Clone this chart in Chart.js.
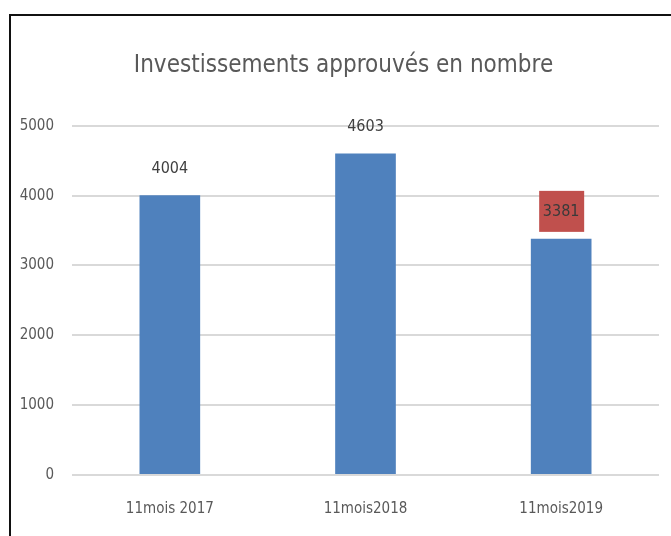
<!DOCTYPE html>
<html>
<head>
<meta charset="utf-8">
<script src="https://cdn.jsdelivr.net/npm/chart.js@4"></script>
<style>
  html, body { margin: 0; padding: 0; background: #fff; }
  #wrap { position: relative; width: 671px; height: 536px; overflow: hidden; }
  #frame { position: absolute; left: 9px; top: 14px; width: 700px; height: 600px;
           border-top: 2px solid #111; border-left: 2px solid #111; }
  canvas { position: absolute; left: 0; top: 0; }
</style>
</head>
<body>
<div id="wrap">
  <div id="frame"></div>
  <canvas id="chart" width="671" height="536"></canvas>
</div>
<script>
const categories = ['11mois 2017', '11mois2018', '11mois2019'];
const values = [4004, 4603, 3381];
const yTicks = [0, 1000, 2000, 3000, 4000, 5000];

const FONT = '"DejaVu Sans Condensed", "Liberation Sans Narrow", sans-serif';
const highlight = 2; // the boxed label

// draws the value labels above each bar
const valueLabels = {
    id: 'valueLabels',
    afterDatasetsDraw(chart) {
        const ctx = chart.ctx;
        const bars = chart.getDatasetMeta(0).data;
        ctx.save();
        ctx.font = '16px ' + FONT;
        ctx.textAlign = 'center';
        ctx.textBaseline = 'middle';
        bars.forEach((bar, i) => {
            const cy = bar.y - 28;
            if (i === highlight) {
                ctx.fillStyle = '#C0504D';
                ctx.fillRect(bar.x - 22, cy - 20, 45, 41);
                ctx.fillStyle = '#3a3a3a';
            } else {
                ctx.fillStyle = '#404040';
            }
            ctx.fillText(String(values[i]), bar.x, cy + 1);
        });
        ctx.restore();
    }
};

new Chart(document.getElementById('chart').getContext('2d'), {
    type: 'bar',
    data: {
        labels: categories,
        datasets: [{
            data: values,
            backgroundColor: '#4F81BD',
            barPercentage: 0.31,
            categoryPercentage: 1
        }]
    },
    options: {
        responsive: false,
        animation: false,
        layout: { padding: { left: 16, right: 0, top: 51, bottom: 1 } },
        plugins: {
            legend: { display: false },
            tooltip: { enabled: false },
            title: {
                display: true,
                text: 'Investissements approuvés en nombre',
                color: '#595959',
                font: { family: FONT, size: 24, weight: 'normal' },
                padding: { top: 0, bottom: 46 }
            }
        },
        scales: {
            x: {
                grid: { display: false },
                border: { display: false },
                ticks: { color: '#595959', font: { family: FONT, size: 15 }, padding: 17 }
            },
            y: {
                min: 0,
                max: 5000,
                afterBuildTicks: s => { s.ticks = yTicks.map(v => ({ value: v })); },
                afterFit: s => { s.width = 56; },
                grid: { color: '#D9D9D9', lineWidth: 2, drawTicks: false },
                border: { display: false },
                ticks: {
                    color: '#595959',
                    font: { family: FONT, size: 15 },
                    padding: 18,
                    callback: v => String(v)
                }
            },
            // empty spacer on the right so the title sits where the original has it
            spacer: {
                type: 'linear',
                position: 'right',
                afterFit: s => { s.width = 12; },
                grid: { display: false },
                border: { display: false },
                ticks: { display: false }
            }
        }
    },
    plugins: [valueLabels]
});
</script>
</body>
</html>
